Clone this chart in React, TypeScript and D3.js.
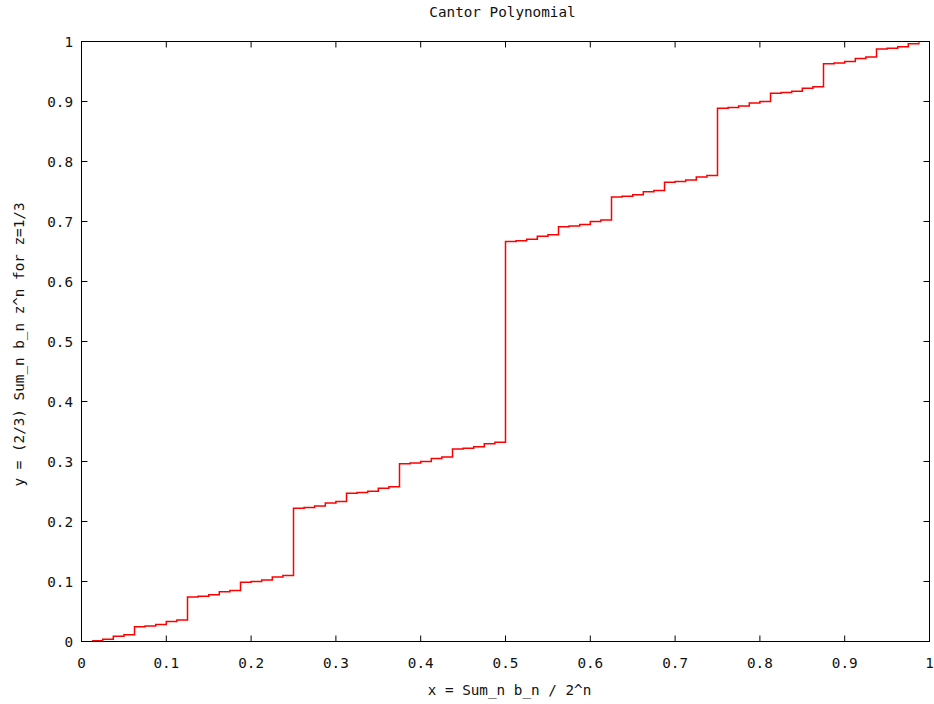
import React from "react";
import * as d3 from "d3";

const TITLE = "Cantor Polynomial";
const X_LABEL = "x = Sum_n b_n / 2^n";
const Y_LABEL = "y = (2/3) Sum_n b_n z^n for z=1/3";

const xTicks = [0, 0.1, 0.2, 0.3, 0.4, 0.5, 0.6, 0.7, 0.8, 0.9, 1];
const yTicks = [0, 0.1, 0.2, 0.3, 0.4, 0.5, 0.6, 0.7, 0.8, 0.9, 1];

const xValues = [
  0.0125, 0.025, 0.0375, 0.05, 0.0625, 0.075, 0.0875, 0.1, 0.1125, 0.125,
  0.1375, 0.15, 0.1625, 0.175, 0.1875, 0.2, 0.2125, 0.225, 0.2375, 0.25,
  0.2625, 0.275, 0.2875, 0.3, 0.3125, 0.325, 0.3375, 0.35, 0.3625, 0.375,
  0.3875, 0.4, 0.4125, 0.425, 0.4375, 0.45, 0.4625, 0.475, 0.4875, 0.5,
  0.5125, 0.525, 0.5375, 0.55, 0.5625, 0.575, 0.5875, 0.6, 0.6125, 0.625,
  0.6375, 0.65, 0.6625, 0.675, 0.6875, 0.7, 0.7125, 0.725, 0.7375, 0.75,
  0.7625, 0.775, 0.7875, 0.8, 0.8125, 0.825, 0.8375, 0.85, 0.8625, 0.875,
  0.8875, 0.9, 0.9125, 0.925, 0.9375, 0.95, 0.9625, 0.975, 0.9875,
];

const yValues = [
  0.00123, 0.0037, 0.00864, 0.01111, 0.02469, 0.02593, 0.0284, 0.03333, 0.0358, 0.07407,
  0.07531, 0.07778, 0.08272, 0.08519, 0.09877, 0.1, 0.10247, 0.10741, 0.10988, 0.22222,
  0.22346, 0.22593, 0.23086, 0.23333, 0.24691, 0.24815, 0.25062, 0.25556, 0.25802, 0.2963,
  0.29753, 0.3, 0.30494, 0.30741, 0.32099, 0.32222, 0.32469, 0.32963, 0.3321, 0.66667,
  0.6679, 0.67037, 0.67531, 0.67778, 0.69136, 0.69259, 0.69506, 0.7, 0.70247, 0.74074,
  0.74198, 0.74444, 0.74938, 0.75185, 0.76543, 0.76667, 0.76914, 0.77407, 0.77654, 0.88889,
  0.89012, 0.89259, 0.89753, 0.9, 0.91358, 0.91481, 0.91728, 0.92222, 0.92469, 0.96296,
  0.9642, 0.96667, 0.9716, 0.97407, 0.98765, 0.98889, 0.99136, 0.9963, 0.99877,
];

const W = 934;
const H = 704;
const FONT = "'DejaVu Sans Mono', 'Liberation Mono', monospace";
const FS = 14.3;

export default function App() {
  const x = d3.scaleLinear().domain([0, 1]).range([81.5, 929.5]);
  const y = d3.scaleLinear().domain([0, 1]).range([641.5, 41.5]);
  const pts: [number, number][] = xValues.map((v, i) => [v, yValues[i]]);
  const line = d3
    .line<[number, number]>()
    .x((d) => x(d[0]))
    .y((d) => y(d[1]))
    .curve(d3.curveStepAfter);
  const tick = 6;
  const fmt = (v: number) => (v === 0 ? "0" : v === 1 ? "1" : d3.format(".1f")(v));
  return (
    <svg
      width={W}
      height={H}
      style={{ position: "absolute", left: 0, top: 0, background: "#fff" }}
      fontFamily={FONT}
    >
      <rect x={0} y={0} width={W} height={H} fill="#fff" />
      {xTicks.map((t) => (
        <g key={"xt" + t}>
          <line x1={x(t)} x2={x(t)} y1={y(0)} y2={y(0) - tick} stroke="#000" />
          <line x1={x(t)} x2={x(t)} y1={y(1)} y2={y(1) + tick} stroke="#000" />
          <text x={x(t)} y={668} textAnchor="middle" fontSize={FS} fill="#111">
            {fmt(t)}
          </text>
        </g>
      ))}
      {yTicks.map((t) => (
        <g key={"yt" + t}>
          <line x1={x(0)} x2={x(0) + tick} y1={y(t)} y2={y(t)} stroke="#000" />
          <line x1={x(1)} x2={x(1) - tick} y1={y(t)} y2={y(t)} stroke="#000" />
          <text x={73} y={y(t) + 5} textAnchor="end" fontSize={FS} fill="#111">
            {fmt(t)}
          </text>
        </g>
      ))}
      <path d={line(pts) || ""} fill="none" stroke="#ff0000" strokeWidth={1.5} />
      <rect
        x={x(0)}
        y={y(1)}
        width={x(1) - x(0)}
        height={y(0) - y(1)}
        fill="none"
        stroke="#000"
      />
      <text x={(x(0) + x(1)) / 2 - 3} y={17} textAnchor="middle" fontSize={FS} fill="#111">
        {TITLE}
      </text>
      <text x={(x(0) + x(1)) / 2 + 4} y={695} textAnchor="middle" fontSize={FS} fill="#111">
        {X_LABEL}
      </text>
      <text
        transform={`translate(24, ${(y(0) + y(1)) / 2 + 3}) rotate(-90)`}
        textAnchor="middle"
        fontSize={FS}
        fill="#111"
      >
        {Y_LABEL}
      </text>
    </svg>
  );
}
